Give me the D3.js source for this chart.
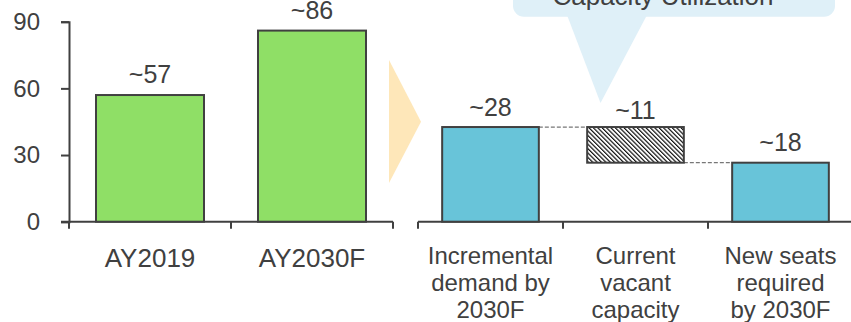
<!DOCTYPE html>
<html>
<head>
<meta charset="utf-8">
<script src="https://cdn.jsdelivr.net/npm/d3@7"></script>
<style>
  html, body { margin: 0; padding: 0; background: #ffffff; }
  svg { display: block; font-family: "Liberation Sans", Arial, sans-serif; }
</style>
</head>
<body>
<svg id="chart" width="851" height="322"></svg>
<script>
// Seat demand (left) and the bridge to new seats required (right)
const yearCategories = ["AY2019", "AY2030F"];
const yearValues = [57, 86];
const yTicks = [0, 30, 60, 90];

const bridgeCategories = [
  ["Incremental", "demand by", "2030F"],
  ["Current", "vacant", "capacity"],
  ["New seats", "required", "by 2030F"]
];
const bridgeValues = [28.4, 10.7, 17.7];   // incremental, vacant (offset), new seats
const bridgeKinds = ["total", "offset", "total"];
const calloutText = "Capacity Utilization";

const svg = d3.select("#chart");
const ink = "#404040";
const baseY = 221.7, topY = 21.7;

// ---------- left panel ----------
const xL = d3.scaleBand().domain(yearCategories).range([69, 393])
  .paddingInner(1 / 3).paddingOuter(1 / 6);
const yL = d3.scaleLinear().domain([0, 90]).range([baseY, topY]);

const yAxis = d3.axisLeft(yL).tickValues(yTicks).tickSize(8).tickPadding(21);
svg.append("g").attr("transform", `translate(${xL.range()[0]},0)`).call(yAxis)
  .call(g => {
    g.select(".domain").attr("stroke", ink).attr("stroke-width", 2);
    g.selectAll(".tick line").attr("stroke", ink).attr("stroke-width", 2);
    g.selectAll(".tick text").attr("fill", ink).attr("font-size", 24)
      .attr("font-family", "Liberation Sans, Arial, sans-serif");
  });

function bandBoundaries(x) {
  const gap = (x.step() - x.bandwidth()) / 2;
  const b = x.domain().map(d => x(d) - gap);
  b.push(x(x.domain()[x.domain().length - 1]) + x.bandwidth() + gap);
  return b;
}

function drawBaseline(x, x0, x1) {
  const g = svg.append("g");
  g.append("line").attr("x1", x0).attr("x2", x1).attr("y1", baseY).attr("y2", baseY)
    .attr("stroke", ink).attr("stroke-width", 2);
  g.selectAll("line.tk").data(bandBoundaries(x)).join("line").attr("class", "tk")
    .attr("x1", d => d).attr("x2", d => d).attr("y1", baseY).attr("y2", baseY + 7)
    .attr("stroke", ink).attr("stroke-width", 2);
}
drawBaseline(xL, 61, 393);

svg.append("g").selectAll("rect").data(yearValues).join("rect")
  .attr("x", (d, i) => xL(yearCategories[i]))
  .attr("width", xL.bandwidth())
  .attr("y", d => yL(d))
  .attr("height", d => yL(0) - yL(d))
  .attr("fill", "#8FDF66").attr("stroke", ink).attr("stroke-width", 2);

svg.append("g").selectAll("text").data(yearValues).join("text")
  .attr("x", (d, i) => xL(yearCategories[i]) + xL.bandwidth() / 2)
  .attr("y", d => yL(d) - 12)
  .attr("text-anchor", "middle").attr("font-size", 25).attr("fill", ink)
  .text(d => "~" + Math.round(d));

svg.append("g").selectAll("text").data(yearCategories).join("text")
  .attr("x", d => xL(d) + xL.bandwidth() / 2)
  .attr("y", 266.5)
  .attr("text-anchor", "middle").attr("font-size", 26).attr("fill", ink)
  .text(d => d);

// chevron between panels
svg.append("path")
  .attr("d", "M389,60 L421,121.7 L389,183 Z")
  .attr("fill", "#FEE7B9");

// ---------- right panel ----------
const xR = d3.scaleBand().domain(bridgeCategories.map(d => d.join(" "))).range([418, 853])
  .paddingInner(1 / 3).paddingOuter(1 / 6);
const yR = d3.scaleLinear().domain([0, 60]).range([baseY, topY]);

// waterfall spans
let running = 0;
const spans = bridgeValues.map((v, i) => {
  const key = xR.domain()[i];
  if (bridgeKinds[i] === "total") { running = v; return { key, v, lo: 0, hi: v, kind: "total" }; }
  const hi = running; running = running - v;
  return { key, v, lo: running, hi, kind: "offset" };
});

const defs = svg.append("defs");
const hs = 3.1;
const pat = defs.append("pattern").attr("id", "hatch").attr("patternUnits", "userSpaceOnUse")
  .attr("width", hs).attr("height", hs).attr("patternTransform", "rotate(-45)");
pat.append("rect").attr("width", hs).attr("height", hs).attr("fill", "#ffffff");
pat.append("line").attr("x1", 0.6).attr("y1", 0).attr("x2", 0.6).attr("y2", hs)
  .attr("stroke", "#111").attr("stroke-width", 1.2);

drawBaseline(xR, 418, 853);

// dashed connectors
const conn = [];
for (let i = 0; i < spans.length - 1; i++) {
  const a = spans[i], b = spans[i + 1];
  const level = a.kind === "total" ? a.hi : a.lo;
  conn.push({ x1: xR(a.key) + xR.bandwidth(), x2: xR(b.key), y: yR(level) });
}
svg.append("g").selectAll("line").data(conn).join("line")
  .attr("x1", d => d.x1).attr("x2", d => d.x2).attr("y1", d => d.y).attr("y2", d => d.y)
  .attr("stroke", "#777").attr("stroke-width", 1.2).attr("stroke-dasharray", "4,2");

svg.append("g").selectAll("rect").data(spans).join("rect")
  .attr("x", d => xR(d.key))
  .attr("width", xR.bandwidth())
  .attr("y", d => yR(d.hi))
  .attr("height", d => yR(d.lo) - yR(d.hi))
  .attr("fill", d => d.kind === "total" ? "#68C4D9" : "url(#hatch)")
  .attr("stroke", ink).attr("stroke-width", 2);

svg.append("g").selectAll("text").data(spans).join("text")
  .attr("x", d => xR(d.key) + xR.bandwidth() / 2)
  .attr("y", d => yR(d.hi) - (d.kind === "total" ? 11.5 : 8.5))
  .attr("text-anchor", "middle").attr("font-size", 25).attr("fill", ink)
  .text(d => "~" + Math.round(d.v));

const catG = svg.append("g");
bridgeCategories.forEach((lines, i) => {
  const key = xR.domain()[i];
  const t = catG.append("text")
    .attr("x", xR(key) + xR.bandwidth() / 2)
    .attr("y", 264)
    .attr("text-anchor", "middle").attr("font-size", 24).attr("fill", ink);
  lines.forEach((ln, j) => {
    t.append("tspan").attr("x", xR(key) + xR.bandwidth() / 2)
      .attr("dy", j === 0 ? 0 : 27).text(ln);
  });
});

// callout bubble pointing at the vacant-capacity span
const vac = spans[1];
const tipX = xR(vac.key) + xR.bandwidth() / 2 - 35;
const callout = svg.append("g");
callout.append("rect").attr("x", 513).attr("y", -40).attr("width", 322).attr("height", 56.7)
  .attr("rx", 11).attr("fill", "#DFF0F8");
callout.append("path")
  .attr("d", `M567,15 L647,15 L${tipX},${yR(vac.hi) - 24} Z`)
  .attr("fill", "#DFF0F8");
callout.append("text").attr("x", 663).attr("y", 4.5)
  .attr("text-anchor", "middle").attr("font-size", 26).attr("fill", ink)
  .text(calloutText);
</script>
</body>
</html>
